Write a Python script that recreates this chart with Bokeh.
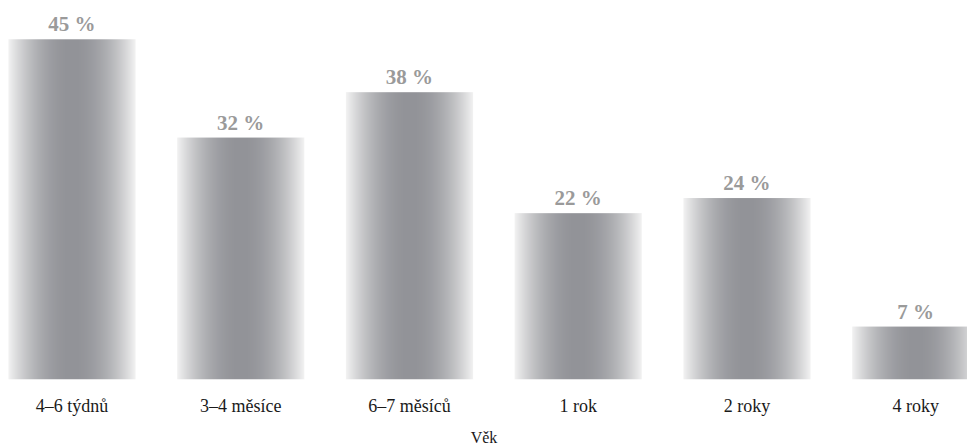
import numpy as np
from bokeh.plotting import figure
from bokeh.models import Range1d, FixedTicker, ColumnDataSource, LabelSet
from bokeh.embed import file_html
from bokeh.resources import INLINE

# ---- data ----
categories = ["4–6 týdnů", "3–4 měsíce", "6–7 měsíců", "1 rok", "2 roky", "4 roky"]
values = [45, 32, 38, 22, 24, 7]
value_labels = [f"{v} %" for v in values]
axis_title = "Věk"

# ---- style ----
BAR_W = 0.753
FONT = "'Liberation Serif', serif"

# horizontal gradient for bars (dark centre, light edges)
N = 256
t = np.linspace(-1.0, 1.0, N)
f = np.abs(t) ** 2.0
centre = np.array([146, 147, 152], dtype=float)
edge = np.array([243, 243, 243], dtype=float)
rgb = centre[None, :] + (edge - centre)[None, :] * f[:, None]
img = np.zeros((2, N), dtype=np.uint32)
view = img.view(dtype=np.uint8).reshape((2, N, 4))
for r in range(2):
    view[r, :, 0] = rgb[:, 0].astype(np.uint8)
    view[r, :, 1] = rgb[:, 1].astype(np.uint8)
    view[r, :, 2] = rgb[:, 2].astype(np.uint8)
    view[r, :, 3] = 255

xs = list(range(len(categories)))
src = ColumnDataSource(dict(
    image=[img] * len(values),
    x=[i - BAR_W / 2 for i in xs],
    y=[0] * len(values),
    dw=[BAR_W] * len(values),
    dh=values,
    xc=xs,
    top=values,
    lab=value_labels,
))

p = figure(
    frame_width=967, frame_height=379,
    output_backend="svg", toolbar_location=None,
    x_range=Range1d(-0.4237, 5.3067), y_range=Range1d(0, 50.13),
    min_border=0, min_border_left=0, min_border_right=0, min_border_top=0, min_border_bottom=0,
    background_fill_color="white", border_fill_color="white",
)
p.outline_line_color = None
p.grid.visible = False
p.yaxis.visible = False

p.image_rgba(image="image", x="x", y="y", dw="dw", dh="dh", source=src)

labels = LabelSet(x="xc", y="top", text="lab", source=src,
                  text_align="center", text_baseline="alphabetic", y_offset=8,
                  text_font=FONT, text_font_style="bold",
                  text_font_size="21px", text_color="#9a9a9a")
p.add_layout(labels)

ax = p.xaxis[0]
ax.ticker = FixedTicker(ticks=xs)
ax.major_label_overrides = {i: c for i, c in zip(xs, categories)}
ax.axis_line_color = None
ax.major_tick_line_color = None
ax.minor_tick_line_color = None
ax.major_tick_out = 0
ax.major_tick_in = 0
ax.major_label_standoff = 16
ax.major_label_text_font = FONT
ax.major_label_text_font_size = "18px"
ax.major_label_text_color = "#1a1a1a"
ax.axis_label = axis_title
ax.axis_label_text_font = FONT
ax.axis_label_text_font_size = "16px"
ax.axis_label_text_font_style = "normal"
ax.axis_label_text_color = "#1a1a1a"
ax.axis_label_standoff = 10

open("out.html", "w").write(file_html(p, INLINE))
